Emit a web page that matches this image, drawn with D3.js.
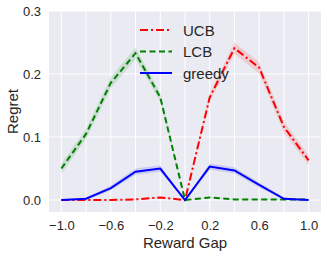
<!DOCTYPE html>
<html>
<head>
<meta charset="utf-8">
<script src="https://cdn.jsdelivr.net/npm/d3@7"></script>
<style>
  body { margin: 0; background: #fff; }
  text { font-family: "Liberation Sans", Arial, sans-serif; fill: #262626; }
</style>
</head>
<body>
<div id="chart"></div>
<script>
// reward gaps on the x axis
const gaps = [-1.0, -0.8, -0.6, -0.4, -0.2, 0.0, 0.2, 0.4, 0.6, 0.8, 1.0];

// mean regret per method
const ucb = [0.0, 0.0, 0.0, 0.001, 0.004, 0.0, 0.163, 0.241, 0.21, 0.116, 0.063];
const lcb = [0.05, 0.105, 0.186, 0.233, 0.163, 0.0, 0.004, 0.001, 0.001, 0.001, 0.001];
const greedy = [0.0, 0.002, 0.019, 0.045, 0.05, 0.0, 0.053, 0.047, 0.024, 0.002, 0.0];

// half width of shaded bands
const ucbErr = [0.001, 0.001, 0.001, 0.001, 0.001, 0.0, 0.007, 0.009, 0.009, 0.009, 0.008];
const lcbErr = [0.008, 0.008, 0.009, 0.009, 0.007, 0.0, 0.001, 0.001, 0.001, 0.001, 0.001];
const greedyErr = [0.001, 0.002, 0.004, 0.005, 0.005, 0.0, 0.005, 0.005, 0.004, 0.002, 0.001];

const xTicks = [-1.0, -0.6, -0.2, 0.2, 0.6, 1.0];
const xGrid = [-1.0, -0.8, -0.6, -0.4, -0.2, 0.0, 0.2, 0.4, 0.6, 0.8, 1.0];
const yTicks = [0.0, 0.1, 0.2, 0.3];

const series = [
  { name: "UCB", values: ucb, err: ucbErr, color: "#ff0000", dash: "8,3,2,3" },
  { name: "LCB", values: lcb, err: lcbErr, color: "#008000", dash: "6,3.5" },
  { name: "greedy", values: greedy, err: greedyErr, color: "#0000ff", dash: null },
];

const width = 327, height = 256;
const margin = { top: 11, right: 6, bottom: 44, left: 49 };

const svg = d3.select("#chart").append("svg")
  .attr("width", width).attr("height", height);

const x = d3.scaleLinear().domain([-1.1, 1.1])
  .range([margin.left, width - margin.right]);
const y = d3.scaleLinear().domain([-0.019, 0.3])
  .range([height - margin.bottom, margin.top]);

// background
svg.append("rect")
  .attr("x", margin.left).attr("y", margin.top)
  .attr("width", width - margin.left - margin.right)
  .attr("height", height - margin.top - margin.bottom)
  .attr("fill", "#eaeaf2");

// grid
svg.append("g").selectAll("line").data(xGrid).join("line")
  .attr("x1", d => x(d)).attr("x2", d => x(d))
  .attr("y1", margin.top).attr("y2", height - margin.bottom)
  .attr("stroke", "#fff").attr("stroke-width", 1);
svg.append("g").selectAll("line").data(yTicks).join("line")
  .attr("x1", margin.left).attr("x2", width - margin.right)
  .attr("y1", d => y(d)).attr("y2", d => y(d))
  .attr("stroke", "#fff").attr("stroke-width", 1);

// axes (labels only)
const xAxis = svg.append("g")
  .attr("transform", `translate(0,${height - margin.bottom})`)
  .call(d3.axisBottom(x).tickValues(xTicks).tickFormat(d3.format(".1f")).tickSize(0).tickPadding(9));
const yAxis = svg.append("g")
  .attr("transform", `translate(${margin.left},0)`)
  .call(d3.axisLeft(y).tickValues(yTicks).tickFormat(d3.format(".1f")).tickSize(0).tickPadding(8));
[xAxis, yAxis].forEach(a => {
  a.select(".domain").remove();
  a.selectAll("text").attr("font-size", 13).attr("fill", "#262626")
    .attr("font-family", "Liberation Sans, Arial, sans-serif");
});

const area = d3.area()
  .x((d, i) => x(gaps[i]))
  .y0(d => y(d[0] - d[1]))
  .y1(d => y(d[0] + d[1]));
const line = d3.line()
  .x((d, i) => x(gaps[i]))
  .y(d => y(d));

series.forEach(s => {
  svg.append("path")
    .datum(s.values.map((v, i) => [v, s.err[i]]))
    .attr("d", area)
    .attr("fill", s.color).attr("fill-opacity", 0.13);
});
series.forEach(s => {
  svg.append("path")
    .datum(s.values)
    .attr("d", line)
    .attr("fill", "none")
    .attr("stroke", s.color)
    .attr("stroke-width", 2)
    .attr("stroke-dasharray", s.dash);
});

// legend
const legend = svg.append("g").attr("transform", "translate(140,30)");
series.forEach((s, i) => {
  const g = legend.append("g").attr("transform", `translate(0,${i * 21.5})`);
  g.append("line").attr("x1", 0).attr("x2", 32)
    .attr("stroke", s.color).attr("stroke-width", 2)
    .attr("stroke-dasharray", s.dash);
  g.append("text").attr("x", 43).attr("y", 5.5)
    .attr("font-size", 15).text(s.name);
});

// axis titles
svg.append("text")
  .attr("x", x(0)).attr("y", 248)
  .attr("text-anchor", "middle").attr("font-size", 15)
  .text("Reward Gap");
svg.append("text")
  .attr("transform", `translate(18,${(margin.top + height - margin.bottom) / 2}) rotate(-90)`)
  .attr("text-anchor", "middle").attr("font-size", 15)
  .text("Regret");
</script>
</body>
</html>
